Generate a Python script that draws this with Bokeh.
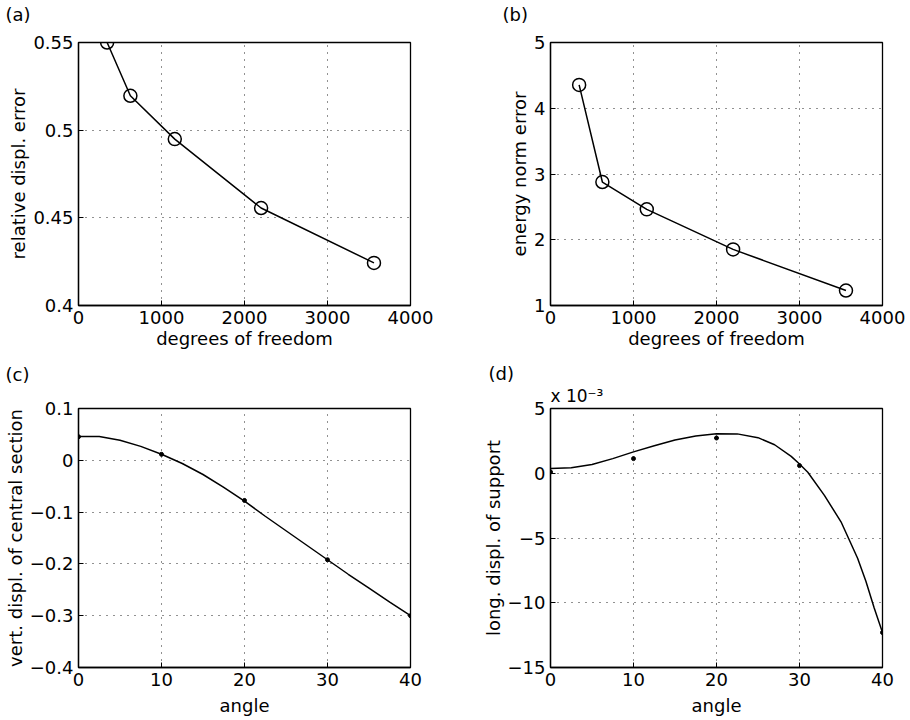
from bokeh.plotting import figure
from bokeh.layouts import gridplot
from bokeh.models import FixedTicker, CustomJSTickFormatter, Range1d, Title
from bokeh.embed import file_html
from bokeh.resources import INLINE

# ---- data ----
dof = [345, 625, 1160, 2200, 3560]
rel_displ_err = [0.550, 0.5196, 0.4949, 0.4556, 0.4243]
energy_norm_err = [4.355, 2.878, 2.462, 1.853, 1.228]

angle_pts = [0, 10, 20, 30, 40]
vert_pts = [0.0455, 0.0115, -0.0775, -0.192, -0.300]
angle_curve_c = [0, 2.5, 5, 7.5, 10, 12.5, 15, 17.5, 20, 22.5, 25, 27.5, 30, 32.5, 35, 37.5, 40]
vert_curve = [0.0461, 0.0458, 0.0386, 0.0269, 0.0117, -0.0062, -0.0274, -0.0524, -0.079,
              -0.108, -0.136, -0.164, -0.192, -0.220, -0.247, -0.274, -0.300]

long_pts = [0.1, 1.13, 2.72, 0.59, -12.3]          # x 10^-3
angle_curve_d = [0, 2.5, 5, 7.5, 10, 12.5, 15, 17.5, 20, 22.5, 25, 27, 29, 30, 31,
                 33, 35, 36, 37, 38, 39, 40]
long_curve = [0.37, 0.42, 0.68, 1.13, 1.65, 2.12, 2.57, 2.88, 3.05, 3.04, 2.75, 2.2, 1.3,
              0.71, 0.08, -1.71, -3.75, -5.15, -6.56, -8.34, -10.4, -12.3]   # x 10^-3

dof_ticks = [0, 1000, 2000, 3000, 4000]
rel_ticks = [0.4, 0.45, 0.5, 0.55]
energy_ticks = [1, 2, 3, 4, 5]
angle_ticks = [0, 10, 20, 30, 40]
vert_ticks = [0.1, 0, -0.1, -0.2, -0.3, -0.4]
long_ticks = [5, 0, -5, -10, -15]

FONT = "DejaVu Sans"
FS = "18px"

fmt_code = """
var v = Math.round(tick * 10000) / 10000;
var s = v.toString();
return s.replace('-', '\u2212');
"""


def make_fig(width, height, bl, br, bt, bb, xr, yr, xt, yt, xlabel, ylabel, xlab_standoff):
    p = figure(width=width, height=height, output_backend="svg", toolbar_location=None,
               x_range=Range1d(*xr), y_range=Range1d(*yr), title=None,
               min_border_left=bl, min_border_right=br, min_border_top=bt, min_border_bottom=bb)
    p.background_fill_color = "white"
    p.border_fill_color = "white"
    p.outline_line_color = "black"
    p.outline_line_width = 1.3
    p.outline_line_alpha = 1.0
    p.xaxis.ticker = FixedTicker(ticks=xt)
    p.yaxis.ticker = FixedTicker(ticks=yt)
    for ax in (p.xaxis[0], p.yaxis[0]):
        ax.formatter = CustomJSTickFormatter(code=fmt_code)
        ax.major_tick_in = 5
        ax.major_tick_out = 0
        ax.minor_tick_in = 0
        ax.minor_tick_out = 0
        ax.axis_line_color = "black"
        ax.axis_line_width = 1.3
        ax.major_tick_line_color = "black"
        ax.major_label_text_font = FONT
        ax.major_label_text_font_size = FS
        ax.major_label_text_color = "black"
        ax.axis_label_text_font = FONT
        ax.axis_label_text_font_size = FS
        ax.axis_label_text_font_style = "normal"
        ax.axis_label_text_color = "black"
        ax.major_label_standoff = 5
        ax.axis_label_standoff = 1
    p.xaxis[0].axis_label_standoff = xlab_standoff
    p.xaxis.axis_label = xlabel
    p.yaxis.axis_label = ylabel
    p.xgrid[0].ticker = FixedTicker(ticks=xt)
    p.ygrid[0].ticker = FixedTicker(ticks=yt)
    for g in (p.xgrid[0], p.ygrid[0]):
        g.grid_line_color = "#222222"
        g.grid_line_dash = "1 6"
        g.grid_line_width = 1
    return p


def tag(text, offset, standoff, size=FS, valign="bottom"):
    return Title(text=text, align="left", offset=offset, standoff=standoff,
                 vertical_align=valign,
                 text_font=FONT, text_font_size=size, text_font_style="normal",
                 text_color="black")


def spacer(px):
    # blank title used only as vertical gap between the frame and the panel tag
    return Title(text=" ", standoff=0, text_font=FONT, text_font_size=f"{px}px")


# row 1: frame 42..305
pa = make_fig(455, 353, 78, 45, 42, 48, (0, 4000), (0.4, 0.55), dof_ticks, rel_ticks,
              "degrees of freedom", "relative displ. error", 1)
pa.add_layout(spacer(14), "above")
pa.add_layout(tag("(a)", -73, 0), "above")
pa.line(dof, rel_displ_err, line_color="black", line_width=1.5)
pa.scatter(dof, rel_displ_err, marker="circle", size=13, fill_color="white", fill_alpha=0,
           line_color="black", line_width=1.5)

pb = make_fig(450, 353, 95, 22, 42, 48, (0, 4000), (1, 5), dof_ticks, energy_ticks,
              "degrees of freedom", "energy norm error", 1)
pb.add_layout(spacer(14), "above")
pb.add_layout(tag("(b)", -48, 0), "above")
pb.line(dof, energy_norm_err, line_color="black", line_width=1.5)
pb.scatter(dof, energy_norm_err, marker="circle", size=13, fill_color="white", fill_alpha=0,
           line_color="black", line_width=1.5)

# row 2: frame 408..667
pc = make_fig(455, 367, 78, 45, 55, 53, (0, 40), (-0.4, 0.1), angle_ticks, vert_ticks,
              "angle", "vert. displ. of central section", 6)
pc.add_layout(spacer(19), "above")
pc.add_layout(tag("(c)", -73, 0), "above")
pc.line(angle_curve_c, vert_curve, line_color="black", line_width=1.5)
pc.scatter(angle_pts, vert_pts, marker="circle", size=4, fill_color="black", line_color="black")

pd = make_fig(450, 367, 94, 23, 55, 53, (0, 40), (-15, 5), angle_ticks, long_ticks,
              "angle", "long. displ. of support", 6)
pd.add_layout(tag("x 10\u207b\u00b3", 0, 6, "17px"), "above")
pd.add_layout(tag("(d)", -62, -6), "above")
pd.line(angle_curve_d, long_curve, line_color="black", line_width=1.5)
pd.scatter(angle_pts, long_pts, marker="circle", size=4, fill_color="black", line_color="black")

grid = gridplot([[pa, pb], [pc, pd]], toolbar_location=None)

open("out.html", "w").write(file_html(grid, INLINE))
